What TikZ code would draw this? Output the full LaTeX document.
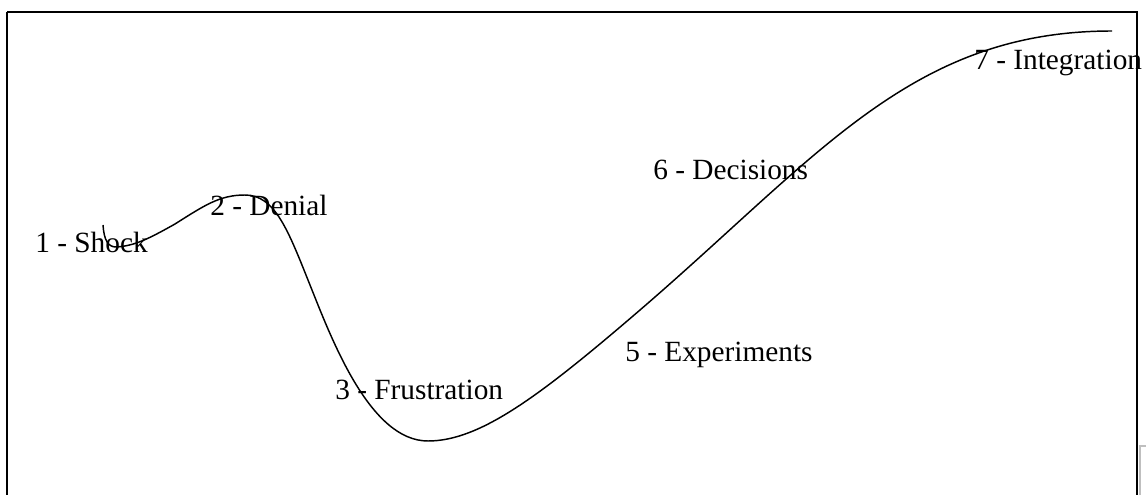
\documentclass[tikz,border=0pt]{standalone}
\usepackage{fontspec}
\setmainfont{Liberation Serif}
\begin{document}
\begin{tikzpicture}[x=0.75pt,y=-0.75pt,
  lbl/.style={anchor=base west,inner sep=0pt,font=\fontsize{22}{24}\selectfont},
  frame/.style={draw=black,line width=1.5pt},
  curve/.style={draw=black,line width=1.1pt}]
\useasboundingbox (0,0) rectangle (1146,495);
\path[frame] (7,12) -- (1137,12) -- (1137,520) (7,520) -- (7,12);
\path[draw=black!25,line width=0.8pt] (1160,446) -- (1140,446) -- (1140,520);
\draw[curve] (103,225) .. controls (104,240) and (108,247) .. (116,247)
  .. controls (135,246) and (150,238) .. (175,224)
  .. controls (205,205) and (220,195) .. (245,195)
  .. controls (275,195) and (288,230) .. (310,285)
  .. controls (332,340) and (370,441) .. (428,441)
  .. controls (480,441) and (540,396) .. (640,310)
  .. controls (820,155) and (912,31) .. (1112,31);
\node[lbl] (s1) at (35,253) {1 - Shock};
\node[lbl] (s2) at (210,216) {2 - Denial};
\node[lbl] (s3) at (335,399) {3 - Frustration};
\node[lbl] (s5) at (625,362) {5 - Experiments};
\node[lbl] (s6) at (653,180) {6 - Decisions};
\node[lbl] (s7) at (974,70) {7 - Integration};
\end{tikzpicture}
\end{document}
